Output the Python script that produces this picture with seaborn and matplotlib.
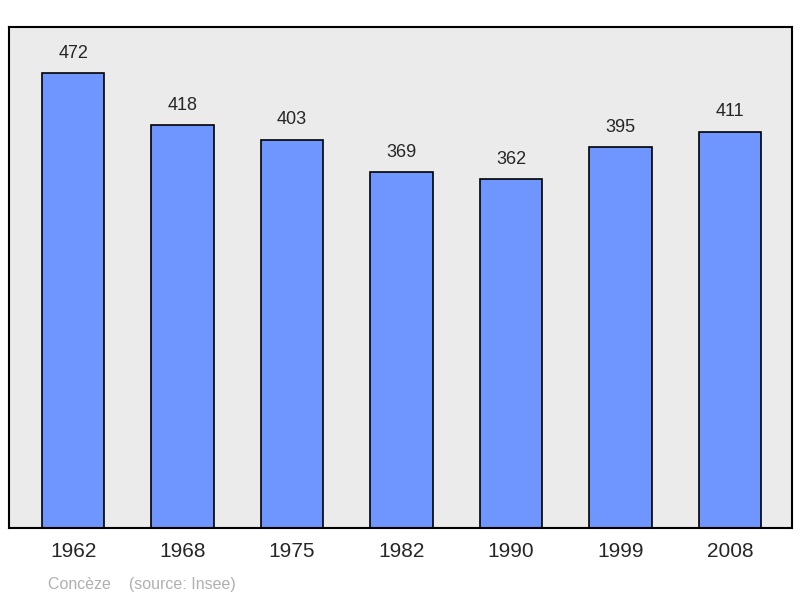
import matplotlib
matplotlib.use("Agg")
import matplotlib.pyplot as plt
import seaborn as sns
import pandas as pd

years = ["1962", "1968", "1975", "1982", "1990", "1999", "2008"]
population = [472, 418, 403, 369, 362, 395, 411]

df = pd.DataFrame({"year": years, "pop": population})

sns.set_style("white")
plt.rcParams["font.family"] = ["Liberation Sans", "DejaVu Sans"]

fig = plt.figure(figsize=(8, 5.98), dpi=100)
ax = fig.add_axes([9 / 800, 1 - 528 / 598, 783 / 800, 501 / 598])
sns.barplot(data=df, x="year", y="pop", color="#6f96ff", saturation=1,
            width=0.57, edgecolor="black", linewidth=1.2, ax=ax)
ax.set_facecolor("#ebebeb")
ax.set_xlim(-0.585, 6.565)
ax.set_ylim(0, 520)
for i, v in enumerate(population):
    ax.text(i, v + 12, str(v), ha="center", va="bottom", fontsize=13)
for s in ax.spines.values():
    s.set_linewidth(1.5)
    s.set_color("black")
ax.set_yticks([])
ax.set_xlabel("")
ax.set_ylabel("")
ax.tick_params(axis="x", length=0, labelsize=15, pad=10)
fig.text(48 / 800, 1 - 584 / 598, "Concèze    (source: Insee)", color="#b0b0b0",
         fontsize=11.5, va="center")
fig.savefig("out.png")
